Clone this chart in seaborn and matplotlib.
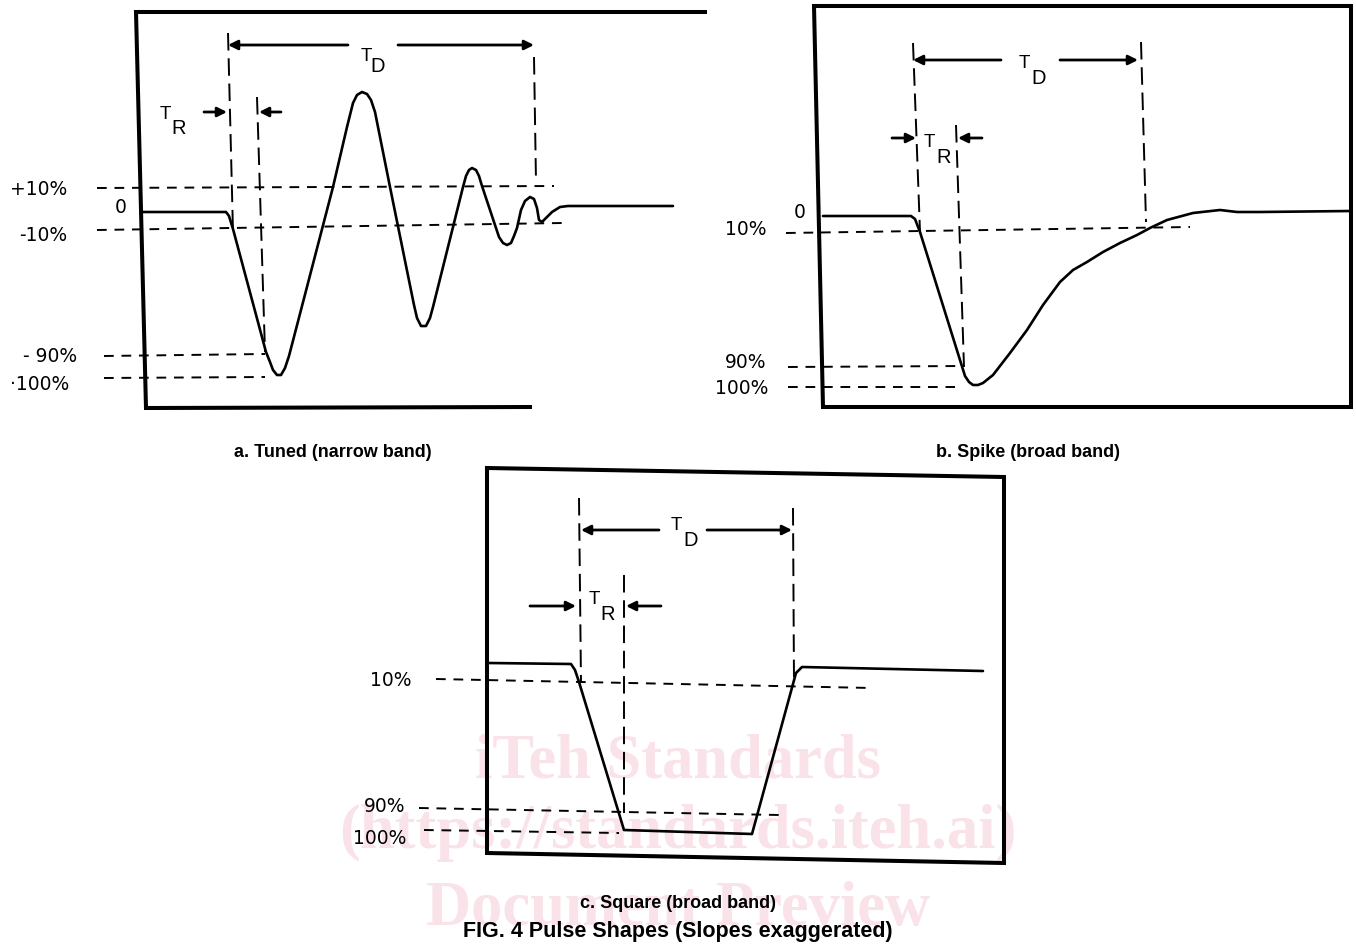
import matplotlib
matplotlib.use("Agg")
import matplotlib.pyplot as plt
import seaborn as sns
import pandas as pd

# ---------------- data (drawing units) ----------------
# a. Tuned (narrow band) waveform
tuned_x = [143, 226, 229, 233, 266, 270, 273, 277, 281, 285, 289, 333, 347, 350, 353, 357,
           362, 367, 371, 375, 378, 390, 414, 417, 421, 426, 430, 433, 463, 466,
           469, 472, 476, 479, 482, 499, 503, 507, 511, 514, 517, 521, 525, 530, 534,
           537, 539, 542, 546, 552, 560, 568, 673]
tuned_y = [212, 212, 216, 229, 352, 362, 370, 375, 375, 368, 356, 187, 127, 115, 103, 95,
           92, 94, 100, 112, 127, 187, 305, 318, 326, 326, 318, 307, 187, 176,
           170, 168, 170, 176, 186, 237, 243, 245, 243, 236, 228, 210, 201, 197, 199,
           208, 220, 222, 218, 212, 207, 206, 206]
# b. Spike (broad band) waveform
spike_x = [823, 911, 915, 920, 965, 969, 973, 978, 983, 993, 1010, 1027, 1043, 1060, 1073,
           1087, 1103, 1120, 1137, 1150, 1167, 1193, 1220, 1237, 1260, 1351]
spike_y = [216, 216, 219, 232, 376, 382, 385, 385, 383, 375, 353, 330, 305, 282, 270,
           262, 252, 243, 235, 228, 220, 213, 210, 212, 212, 211]
# c. Square (broad band) waveform
square_x = [489, 571, 575, 579, 624, 752, 796, 802, 983]
square_y = [663, 664, 670, 682, 830, 834, 673, 667, 671]

# level labels per panel
tuned_levels = ["+10%", "0", "-10%", "- 90%", "·100%"]
spike_levels = ["0", "10%", "90%", "100%"]
square_levels = ["10%", "90%", "100%"]

captions = ["a. Tuned (narrow band)", "b. Spike (broad band)", "c. Square (broad band)"]
figure_title = "FIG. 4 Pulse Shapes (Slopes exaggerated)"
watermark = ["iTeh Standards", "(https://standards.iteh.ai)", "Document Preview"]

# ---------------- layout / geometry ----------------
W, H = 1356, 949
sns.set_theme(style="white")
plt.rcParams["font.family"] = ["DejaVu Sans"]
plt.rcParams["text.color"] = "black"

fig = plt.figure(figsize=(W / 100, H / 100), dpi=100)
ax = fig.add_axes([0, 0, 1, 1])

# watermark (behind everything)
wm_pos = [(678, 763), (678, 833), (678, 910)]
for txt, (x, y) in zip(watermark, wm_pos):
    ax.text(x, y, txt, ha="center", va="center", fontsize=45, fontweight="bold",
            family=["Liberation Serif", "DejaVu Serif"], color="#fae2e9", zorder=0)

FRAME_LW = 2.9
WAVE_LW = 1.9
DASH_LW = 1.4

# frames
frames = [
    ([705, 136, 146, 530], [12, 12, 408, 407]),
    ([814, 1351, 1351, 823, 814], [6, 6, 407, 407, 6]),
    ([487, 1004, 1004, 487, 487], [468, 477, 863, 853, 468]),
]
for fx, fy in frames:
    ax.plot(fx, fy, color="black", lw=FRAME_LW, solid_joinstyle="miter",
            solid_capstyle="projecting", zorder=3)

# waveforms via seaborn
for xs, ys in [(tuned_x, tuned_y), (spike_x, spike_y), (square_x, square_y)]:
    df = pd.DataFrame({"t": xs, "amp": ys})
    sns.lineplot(data=df, x="t", y="amp", sort=False, estimator=None,
                 color="black", lw=WAVE_LW, ax=ax, zorder=4)

# horizontal level dashes
h_dashes = [
    ((97, 188), (554, 186)), ((97, 230), (563, 223)), ((104, 356), (265, 354)), ((104, 378), (265, 377)),
    ((786, 233), (1190, 227)), ((788, 367), (964, 366)), ((788, 387), (955, 387)),
    ((436, 679), (872, 688)), ((419, 808), (779, 815)), ((424, 830), (619, 833)),
]
for (x0, y0), (x1, y1) in h_dashes:
    ax.plot([x0, x1], [y0, y1], color="black", lw=DASH_LW, ls=(0, (5, 4)), zorder=2)

# vertical marker dashes
v_dashes = [
    ((228, 33), (233, 232)), ((257, 97), (265, 352)), ((534, 57), (536, 182)),
    ((913, 43), (920, 232)), ((956, 125), (964, 367)), ((1141, 42), (1146, 222)),
    ((579, 498), (581, 683)), ((624, 575), (624, 813)), ((793, 508), (794, 683)),
]
for (x0, y0), (x1, y1) in v_dashes:
    ax.plot([x0, x1], [y0, y1], color="black", lw=DASH_LW, ls=(0, (9, 4)), zorder=2)

# arrows (tail -> head)
arrows = [
    ((348, 45), (228, 45)), ((398, 45), (534, 45)), ((204, 112), (227, 112)), ((281, 112), (259, 112)),
    ((1001, 60), (913, 60)), ((1060, 60), (1138, 60)), ((892, 138), (916, 138)), ((982, 138), (958, 138)),
    ((659, 530), (581, 530)), ((707, 530), (792, 530)), ((530, 606), (576, 606)), ((661, 606), (626, 606)),
]
for tail, head in arrows:
    ax.annotate("", xy=head, xytext=tail,
                arrowprops=dict(arrowstyle="-|>", color="black", lw=2.0,
                                mutation_scale=14, shrinkA=0, shrinkB=0), zorder=5)

# T_D / T_R symbols
symbols = [
    ((366, 56), (378, 66), "D"), ((165, 114), (179, 128), "R"),
    ((1024, 63), (1039, 78), "D"), ((929, 142), (944, 157), "R"),
    ((676, 526), (691, 540), "D"), ((594, 599), (608, 614), "R"),
]
for (tx, ty), (sx, sy), sub in symbols:
    ax.text(tx, ty, "T", ha="center", va="center", fontsize=13.5,
            family=["Liberation Sans", "DejaVu Sans"])
    ax.text(sx, sy, sub, ha="center", va="center", fontsize=14.5,
            family=["Liberation Sans", "DejaVu Sans"])

# level labels
level_pos = [
    (tuned_levels, [(39, 189), (121, 207), (43, 235), (50, 356), (40, 384)]),
    (spike_levels, [(800, 212), (746, 229), (746, 363), (742, 389)]),
    (square_levels, [(391, 680), (385, 806), (380, 839)]),
]
for labels, poss in level_pos:
    for lab, (x, y) in zip(labels, poss):
        ax.text(x, y, lab, ha="center", va="center", fontsize=13.5, zorder=6)

# captions
cap_pos = [(333, 452), (1028, 452), (678, 903)]
for txt, (x, y) in zip(captions, cap_pos):
    ax.text(x, y, txt, ha="center", va="center", fontsize=13, fontweight="bold",
            family=["Liberation Sans", "DejaVu Sans"], zorder=6)
ax.text(678, 931, figure_title, ha="center", va="center", fontsize=15.5, fontweight="bold",
        family=["Liberation Sans", "DejaVu Sans"], zorder=6)

ax.set_xlim(0, W)
ax.set_ylim(H, 0)
ax.axis("off")

fig.savefig("out.png", dpi=100, facecolor="white")
